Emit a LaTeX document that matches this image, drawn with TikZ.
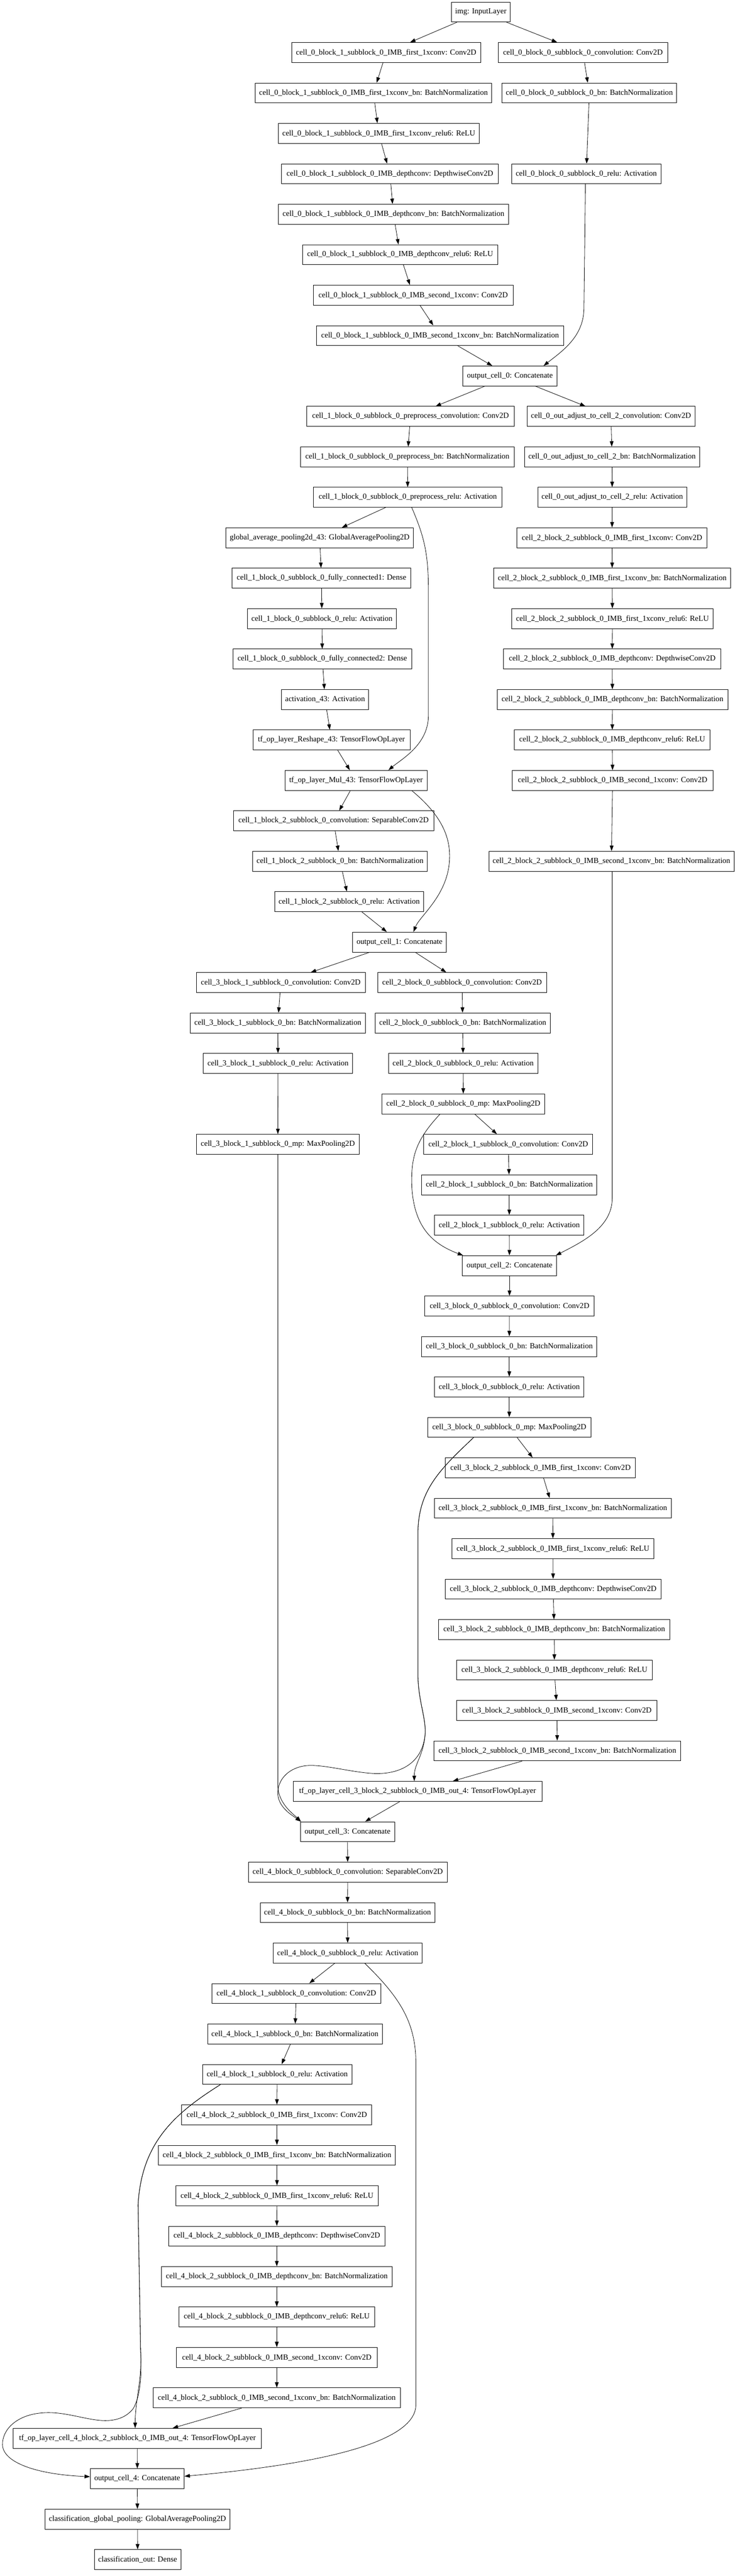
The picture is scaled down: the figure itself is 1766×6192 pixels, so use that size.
\documentclass[tikz,border=0pt]{standalone}
\usepackage{fontspec}
\setmainfont{Liberation Serif}
\usetikzlibrary{arrows.meta,calc}
\newcommand\lfont{\fontsize{18.67}{22}\selectfont}
\newcommand\Lay[5]{\node[lay,minimum width=#4pt] (#1) at (#2,{29+97.2*#3}) {#5};}
\tikzset{
  lay/.style={draw, line width=1.1pt, rectangle, minimum height=48pt, inner xsep=9pt, inner ysep=0pt, font=\lfont, fill=white},
  conn/.style={line width=1pt, -{Triangle[length=13pt,width=9pt]}}
}
\begin{document}
\begin{tikzpicture}[x=1pt,y=-1pt]
\fill[white] (0,0) rectangle (1766,6192);
\useasboundingbox (0,0) rectangle (1766,6192);
% ---- nodes ----
\Lay{img}{1156}{0}{138}{img: InputLayer}
\Lay{A1}{928.5}{1}{455}{cell\_0\_block\_1\_subblock\_0\_IMB\_first\_1xconv: Conv2D}
\Lay{B1}{1401.5}{1}{407}{cell\_0\_block\_0\_subblock\_0\_convolution: Conv2D}
\Lay{A2}{898}{2}{568}{cell\_0\_block\_1\_subblock\_0\_IMB\_first\_1xconv\_bn: BatchNormalization}
\Lay{B2}{1417}{2}{420}{cell\_0\_block\_0\_subblock\_0\_bn: BatchNormalization}
\Lay{A3}{910.5}{3}{483}{cell\_0\_block\_1\_subblock\_0\_IMB\_first\_1xconv\_relu6: ReLU}
\Lay{A4}{937.5}{4}{521}{cell\_0\_block\_1\_subblock\_0\_IMB\_depthconv: DepthwiseConv2D}
\Lay{B4}{1409.5}{4}{359}{cell\_0\_block\_0\_subblock\_0\_relu: Activation}
\Lay{A5}{946}{5}{554}{cell\_0\_block\_1\_subblock\_0\_IMB\_depthconv\_bn: BatchNormalization}
\Lay{A6}{962}{6}{470}{cell\_0\_block\_1\_subblock\_0\_IMB\_depthconv\_relu6: ReLU}
\Lay{A7}{993.5}{7}{481}{cell\_0\_block\_1\_subblock\_0\_IMB\_second\_1xconv: Conv2D}
\Lay{A8}{1058}{8}{594}{cell\_0\_block\_1\_subblock\_0\_IMB\_second\_1xconv\_bn: BatchNormalization}
\Lay{out0}{1226}{9}{226}{output\_cell\_0: Concatenate}
\Lay{P1}{987}{10}{500}{cell\_1\_block\_0\_subblock\_0\_preprocess\_convolution: Conv2D}
\Lay{J1}{1469}{10}{404}{cell\_0\_out\_adjust\_to\_cell\_2\_convolution: Conv2D}
\Lay{P2}{979.5}{11}{515}{cell\_1\_block\_0\_subblock\_0\_preprocess\_bn: BatchNormalization}
\Lay{J2}{1471.5}{11}{419}{cell\_0\_out\_adjust\_to\_cell\_2\_bn: BatchNormalization}
\Lay{P3}{980.5}{12}{453}{cell\_1\_block\_0\_subblock\_0\_preprocess\_relu: Activation}
\Lay{J3}{1472}{12}{356}{cell\_0\_out\_adjust\_to\_cell\_2\_relu: Activation}
\Lay{G1}{768.5}{13}{449}{global\_average\_pooling2d\_43: GlobalAveragePooling2D}
\Lay{K1}{1471.5}{13}{457}{cell\_2\_block\_2\_subblock\_0\_IMB\_first\_1xconv: Conv2D}
\Lay{F1}{773}{14}{430}{cell\_1\_block\_0\_subblock\_0\_fully\_connected1: Dense}
\Lay{K2}{1472}{14}{570}{cell\_2\_block\_2\_subblock\_0\_IMB\_first\_1xconv\_bn: BatchNormalization}
\Lay{R1}{774}{15}{358}{cell\_1\_block\_0\_subblock\_0\_relu: Activation}
\Lay{K3}{1472.5}{15}{485}{cell\_2\_block\_2\_subblock\_0\_IMB\_first\_1xconv\_relu6: ReLU}
\Lay{F2}{775}{16}{430}{cell\_1\_block\_0\_subblock\_0\_fully\_connected2: Dense}
\Lay{K4}{1472}{16}{522}{cell\_2\_block\_2\_subblock\_0\_IMB\_depthconv: DepthwiseConv2D}
\Lay{ACT}{781.5}{17}{207}{activation\_43: Activation}
\Lay{K5}{1472.5}{17}{555}{cell\_2\_block\_2\_subblock\_0\_IMB\_depthconv\_bn: BatchNormalization}
\Lay{RS}{797}{18}{378}{tf\_op\_layer\_Reshape\_43: TensorFlowOpLayer}
\Lay{K6}{1472}{18}{470}{cell\_2\_block\_2\_subblock\_0\_IMB\_depthconv\_relu6: ReLU}
\Lay{MUL}{856}{19}{342}{tf\_op\_layer\_Mul\_43: TensorFlowOpLayer}
\Lay{K7}{1473}{19}{482}{cell\_2\_block\_2\_subblock\_0\_IMB\_second\_1xconv: Conv2D}
\Lay{S1}{802}{20}{482}{cell\_1\_block\_2\_subblock\_0\_convolution: SeparableConv2D}
\Lay{S2}{817.5}{21}{419}{cell\_1\_block\_2\_subblock\_0\_bn: BatchNormalization}
\Lay{K8}{1470}{21}{588}{cell\_2\_block\_2\_subblock\_0\_IMB\_second\_1xconv\_bn: BatchNormalization}
\Lay{S3}{839.5}{22}{359}{cell\_1\_block\_2\_subblock\_0\_relu: Activation}
\Lay{out1}{960.5}{23}{225}{output\_cell\_1: Concatenate}
\Lay{L1}{675}{24}{406}{cell\_3\_block\_1\_subblock\_0\_convolution: Conv2D}
\Lay{M1}{1111}{24}{406}{cell\_2\_block\_0\_subblock\_0\_convolution: Conv2D}
\Lay{L2}{668}{25}{420}{cell\_3\_block\_1\_subblock\_0\_bn: BatchNormalization}
\Lay{M2}{1112.5}{25}{421}{cell\_2\_block\_0\_subblock\_0\_bn: BatchNormalization}
\Lay{L3}{668.5}{26}{359}{cell\_3\_block\_1\_subblock\_0\_relu: Activation}
\Lay{M3}{1113.5}{26}{359}{cell\_2\_block\_0\_subblock\_0\_relu: Activation}
\Lay{M4}{1114}{27}{392}{cell\_2\_block\_0\_subblock\_0\_mp: MaxPooling2D}
\Lay{L4}{668}{28}{392}{cell\_3\_block\_1\_subblock\_0\_mp: MaxPooling2D}
\Lay{N1}{1222}{28}{406}{cell\_2\_block\_1\_subblock\_0\_convolution: Conv2D}
\Lay{N2}{1224.5}{29}{421}{cell\_2\_block\_1\_subblock\_0\_bn: BatchNormalization}
\Lay{N3}{1224.5}{30}{359}{cell\_2\_block\_1\_subblock\_0\_relu: Activation}
\Lay{out2}{1225}{31}{226}{output\_cell\_2: Concatenate}
\Lay{Q1}{1225}{32}{408}{cell\_3\_block\_0\_subblock\_0\_convolution: Conv2D}
\Lay{Q2}{1224.5}{33}{421}{cell\_3\_block\_0\_subblock\_0\_bn: BatchNormalization}
\Lay{Q3}{1224.5}{34}{359}{cell\_3\_block\_0\_subblock\_0\_relu: Activation}
\Lay{Q4}{1224.5}{35}{393}{cell\_3\_block\_0\_subblock\_0\_mp: MaxPooling2D}
\Lay{T1}{1299.5}{36}{457}{cell\_3\_block\_2\_subblock\_0\_IMB\_first\_1xconv: Conv2D}
\Lay{T2}{1329}{37}{570}{cell\_3\_block\_2\_subblock\_0\_IMB\_first\_1xconv\_bn: BatchNormalization}
\Lay{T3}{1329.5}{38}{485}{cell\_3\_block\_2\_subblock\_0\_IMB\_first\_1xconv\_relu6: ReLU}
\Lay{T4}{1330}{39}{520}{cell\_3\_block\_2\_subblock\_0\_IMB\_depthconv: DepthwiseConv2D}
\Lay{T5}{1332.5}{40}{555}{cell\_3\_block\_2\_subblock\_0\_IMB\_depthconv\_bn: BatchNormalization}
\Lay{T6}{1333}{41}{470}{cell\_3\_block\_2\_subblock\_0\_IMB\_depthconv\_relu6: ReLU}
\Lay{T7}{1339}{42}{482}{cell\_3\_block\_2\_subblock\_0\_IMB\_second\_1xconv: Conv2D}
\Lay{T8}{1340}{43}{594}{cell\_3\_block\_2\_subblock\_0\_IMB\_second\_1xconv\_bn: BatchNormalization}
\Lay{TF3}{1004}{44}{598}{tf\_op\_layer\_cell\_3\_block\_2\_subblock\_0\_IMB\_out\_4: TensorFlowOpLayer}
\Lay{out3}{835.5}{45}{227}{output\_cell\_3: Concatenate}
\Lay{U1}{836}{46}{478}{cell\_4\_block\_0\_subblock\_0\_convolution: SeparableConv2D}
\Lay{U2}{835.5}{47}{419}{cell\_4\_block\_0\_subblock\_0\_bn: BatchNormalization}
\Lay{U3}{836}{48}{358}{cell\_4\_block\_0\_subblock\_0\_relu: Activation}
\Lay{V1}{712.5}{49}{407}{cell\_4\_block\_1\_subblock\_0\_convolution: Conv2D}
\Lay{V2}{709}{50}{420}{cell\_4\_block\_1\_subblock\_0\_bn: BatchNormalization}
\Lay{V3}{666.5}{51}{359}{cell\_4\_block\_1\_subblock\_0\_relu: Activation}
\Lay{W1}{665.5}{52}{457}{cell\_4\_block\_2\_subblock\_0\_IMB\_first\_1xconv: Conv2D}
\Lay{W2}{666}{53}{570}{cell\_4\_block\_2\_subblock\_0\_IMB\_first\_1xconv\_bn: BatchNormalization}
\Lay{W3}{666}{54}{486}{cell\_4\_block\_2\_subblock\_0\_IMB\_first\_1xconv\_relu6: ReLU}
\Lay{W4}{665.5}{55}{521}{cell\_4\_block\_2\_subblock\_0\_IMB\_depthconv: DepthwiseConv2D}
\Lay{W5}{665.5}{56}{555}{cell\_4\_block\_2\_subblock\_0\_IMB\_depthconv\_bn: BatchNormalization}
\Lay{W6}{665.5}{57}{471}{cell\_4\_block\_2\_subblock\_0\_IMB\_depthconv\_relu6: ReLU}
\Lay{W7}{665.5}{58}{483}{cell\_4\_block\_2\_subblock\_0\_IMB\_second\_1xconv: Conv2D}
\Lay{W8}{665.5}{59}{595}{cell\_4\_block\_2\_subblock\_0\_IMB\_second\_1xconv\_bn: BatchNormalization}
\Lay{TF4}{330.5}{60}{597}{tf\_op\_layer\_cell\_4\_block\_2\_subblock\_0\_IMB\_out\_4: TensorFlowOpLayer}
\Lay{out4}{330}{61}{226}{output\_cell\_4: Concatenate}
\Lay{CG}{330.5}{62}{439}{classification\_global\_pooling: GlobalAveragePooling2D}
\Lay{CO}{331}{63}{206}{classification\_out: Dense}
% ---- straight connectors ----
\foreach \a/\b in {img/A1,img/B1,A1/A2,A2/A3,A3/A4,A4/A5,A5/A6,A6/A7,A7/A8,A8/out0,
  B1/B2,B2/B4,out0/P1,out0/J1,P1/P2,P2/P3,P3/G1,G1/F1,F1/R1,R1/F2,F2/ACT,ACT/RS,RS/MUL,
  MUL/S1,S1/S2,S2/S3,S3/out1,J1/J2,J2/J3,J3/K1,K1/K2,K2/K3,K3/K4,K4/K5,K5/K6,K6/K7,K7/K8,
  out1/L1,out1/M1,L1/L2,L2/L3,L3/L4,M1/M2,M2/M3,M3/M4,M4/N1,N1/N2,N2/N3,N3/out2,
  out2/Q1,Q1/Q2,Q2/Q3,Q3/Q4,Q4/T1,T1/T2,T2/T3,T3/T4,T4/T5,T5/T6,T6/T7,T7/T8,T8/TF3,TF3/out3,
  out3/U1,U1/U2,U2/U3,U3/V1,V1/V2,V2/V3,V3/W1,W1/W2,W2/W3,W3/W4,W4/W5,W5/W6,W6/W7,W7/W8,W8/TF4,
  TF4/out4,out4/CG,CG/CO}
  \draw[conn] (\a) -- (\b);
% ---- curved connectors ----
\draw[conn] ($(B4.south)+(-2,0)$) -- (1404,740) .. controls (1404,810) and (1350,845) .. ($(out0.north)+(81,0)$);
\draw[conn] ($(P3.south)+(9.5,0)$) .. controls (1020,1290) and (1030,1330) .. (1030,1420) -- (1030,1720) .. controls (1030,1790) and (965,1825) .. ($(MUL.north)+(78,0)$);
\draw[conn] ($(MUL.south)+(134,0)$) .. controls (1050,1950) and (1082,2000) .. (1081,2060) .. controls (1080,2150) and (1010,2200) .. ($(out1.north)+(33.5,0)$);
\draw[conn] ($(K8.south)+(2,0)$) -- (1472,2880) .. controls (1472,2950) and (1400,2985) .. ($(out2.north east)+(-2,0)$);
\draw[conn] ($(M4.south)+(-56,0)$) .. controls (1000,2740) and (988,2780) .. (990,2850) .. controls (995,2950) and (1040,2990) .. ($(out2.north west)+(2,0)$);
\draw[conn] (L4.south) -- (668,4290) .. controls (668,4335) and (705,4360) .. ($(out3.north west)+(2,0)$);
\draw[conn] ($(Q4.south)+(-86,0)$) .. controls (1060,3530) and (1007,3580) .. (1005,3680) -- (1005,4030) .. controls (1006,4090) and (1025,4130) .. (1022,4170) .. controls (1018,4220) and (996,4240) .. ($(TF3.north)+(-8,0)$);
\draw[conn] ($(Q4.south)+(-86,0)$) .. controls (1060,3530) and (1007,3580) .. (1005,3680) -- (1005,4030) .. controls (1006,4090) and (1025,4130) .. (1022,4170) .. controls (1015,4240) and (960,4265) .. (900,4263) .. controls (840,4260) and (770,4238) .. (730,4245) .. controls (690,4252) and (668,4280) .. (668,4310) .. controls (668,4345) and (705,4365) .. ($(out3.north west)+(2,0)$);
\draw[conn] ($(U3.south)+(41,0)$) .. controls (960,4800) and (1000,4860) .. (1000,4960) -- (1000,5780) .. controls (1000,5865) and (800,5920) .. ($(out4.east)+(0,-6)$);
\draw[conn] ($(V3.south)+(-136.5,0)$) .. controls (420,5080) and (340,5150) .. (332,5300) -- (338,5650) .. controls (342,5720) and (325,5770) .. ($(TF4.north)+(-5.5,0)$);
\draw[conn] ($(V3.south)+(-136.5,0)$) .. controls (420,5080) and (340,5150) .. (332,5300) -- (338,5650) .. controls (342,5720) and (335,5765) .. (320,5790) .. controls (300,5815) and (270,5820) .. (243,5818) .. controls (200,5815) and (150,5795) .. (100,5800) .. controls (40,5805) and (5,5840) .. (6,5877) .. controls (8,5920) and (90,5948) .. ($(out4.west)+(0,-5)$);
\end{tikzpicture}
\end{document}
